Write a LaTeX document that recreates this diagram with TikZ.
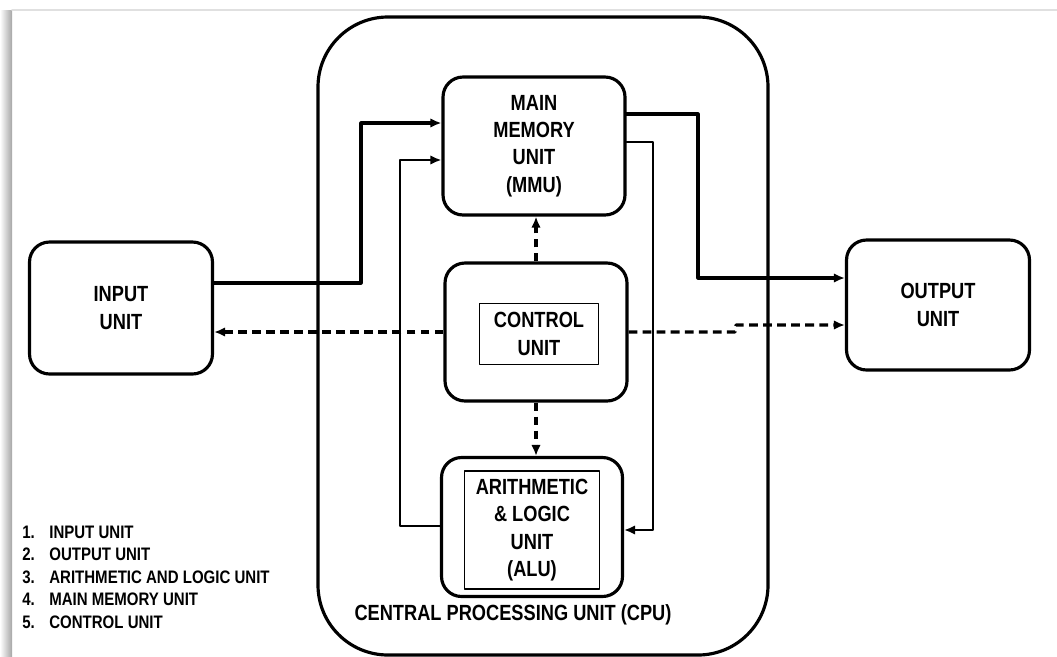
\documentclass[tikz,border=0pt]{standalone}
\usepackage{fontspec}
\setmainfont[FakeStretch=0.83]{Liberation Sans}
\usetikzlibrary{arrows.meta}

\begin{document}
\begin{tikzpicture}[x=0.02cm, y=-0.02cm, line cap=round, line join=round, >={Latex[length=2.2mm,width=1.9mm]}]
	\tikzset{unit box/.style={draw, line width=1.8pt, rounded corners=0.4cm, align=center, font=\bfseries\fontsize{12.5}{15.6}\selectfont},
		inner box/.style={draw, line width=0.6pt, align=center, font=\bfseries\fontsize{12.5}{15.6}\selectfont},
		data line/.style={->, line width=1.8pt},
		thin line/.style={->, line width=1.2pt},
		ctrl line/.style={->, line width=1.8pt, line cap=butt, dash pattern=on 5pt off 3pt},
		legend style/.style={font=\bfseries\fontsize{10.3}{11}\selectfont, anchor=base west, inner sep=0pt}}
	\useasboundingbox (0,0) rectangle (1057,656);
	% screen edge
	\shade[left color=white, right color=black!35] (0,10) rectangle (12,656);
	\draw[black!12, line width=1pt] (12,10) -- (1057,10);
	% cpu frame
	\draw[line width=1.8pt, rounded corners=1.4cm] (318,17) rectangle (768,655);
	\node[font=\bfseries\fontsize{12.5}{15}\selectfont] (cpu) at (513,615) {CENTRAL PROCESSING UNIT (CPU)};
	% units
	\node[unit box, minimum width=3.64cm, minimum height=2.76cm] (mmu) at (534,146) {MAIN\\MEMORY\\UNIT\\(MMU)};
	\node[unit box, minimum width=3.64cm, minimum height=2.76cm] (cu) at (536,332) {};
	\node[inner box, minimum width=2.38cm, minimum height=1.22cm] (cutxt) at (539,334) {CONTROL\\UNIT};
	\node[unit box, minimum width=3.62cm, minimum height=2.78cm] (alu) at (532,527) {};
	\node[inner box, minimum width=2.7cm, minimum height=2.36cm] (alutxt) at (532,530) {ARITHMETIC\\\& LOGIC\\UNIT\\(ALU)};
	\node[unit box, minimum width=3.66cm, minimum height=2.64cm] (in) at (121,308) {INPUT\\UNIT};
	\node[unit box, minimum width=3.66cm, minimum height=2.6cm] (out) at (938,305) {OUTPUT\\UNIT};
	% data paths
	\draw[data line] (in.east |- 0,283) -| (361,123) -- (mmu.west |- 0,123);
	\draw[data line] (mmu.east |- 0,114) -| (698,278) -- (out.west |- 0,278);
	\draw[thin line] (alu.west |- 0,526) -| (400,160) -- (mmu.west |- 0,160);
	\draw[thin line] (mmu.east |- 0,142) -| (653,530) -- (alu.east |- 0,530);
	% control signals
	\draw[ctrl line] (cu.north) -- (cu.north |- mmu.south);
	\draw[ctrl line] (cu.south) -- (cu.south |- alu.north);
	\draw[ctrl line] (cu.west) -- (in.east |- cu.west);
	\draw[ctrl line] (cu.east) -- (735,332) -- (736,325) -- (out.west |- 0,325);
	% legend
	\foreach \t [count=\i] in {INPUT UNIT, OUTPUT UNIT, ARITHMETIC AND LOGIC UNIT, MAIN MEMORY UNIT, CONTROL UNIT}{
		\node[legend style] (num\i) at (22,{538+22.5*(\i-1)}) {\i.};
		\node[legend style] (leg\i) at (49,{538+22.5*(\i-1)}) {\t};
	}
\end{tikzpicture}
\end{document}
